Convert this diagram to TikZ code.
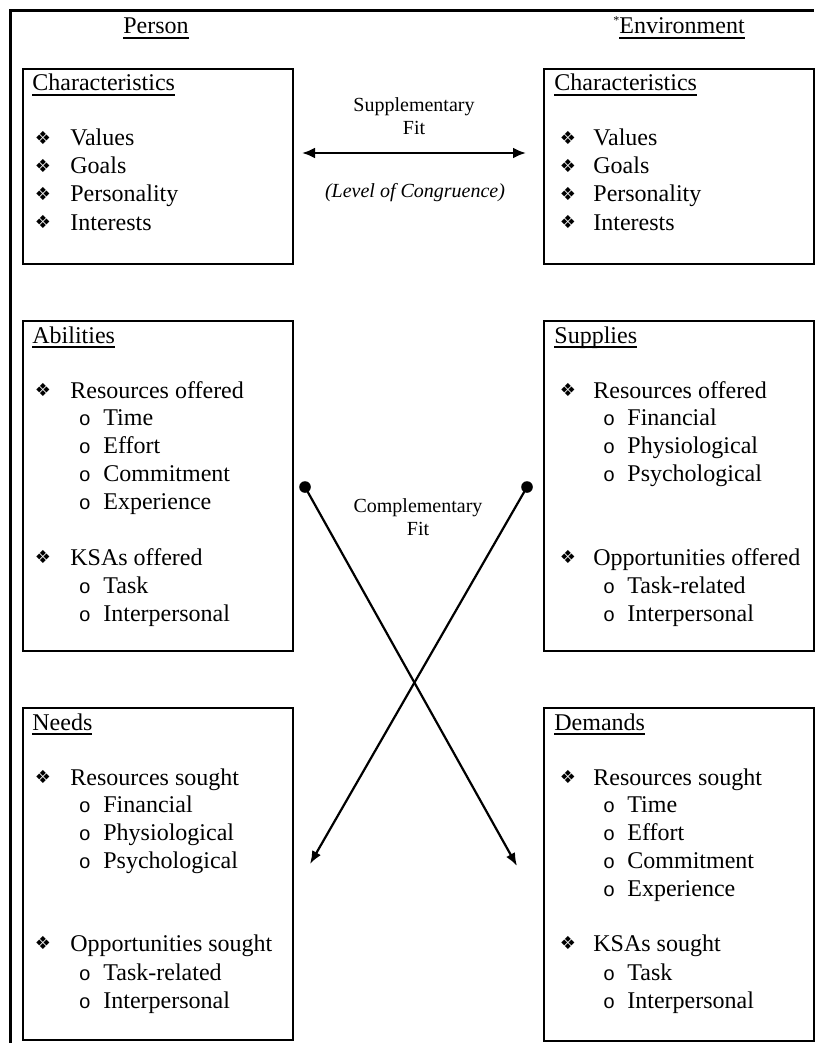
\documentclass[tikz,border=0pt]{standalone}
\usepackage{fontspec}
\setmainfont{Liberation Serif}
\newfontfamily\dingfont{DejaVu Sans}
\newfontfamily\circfont{Liberation Mono}
\usetikzlibrary{arrows.meta}
\newlength\ulwidth
% Word-style underline: fixed distance below the baseline
\newcommand\ulword[1]{\settowidth\ulwidth{#1}\rlap{\rule[-2.4pt]{\ulwidth}{0.9pt}}#1}

\begin{document}
\begin{tikzpicture}[x=0.5pt,y=-0.5pt,
  frameline/.style={line width=1.5pt},
  panel/.style={draw, line width=0.8pt, anchor=north west, inner sep=0pt, minimum width=135pt},
  txt/.style={anchor=west, inner sep=0pt, text height=8pt, text depth=0pt, font=\fontsize{12}{14}\selectfont},
  head/.style={anchor=center, inner sep=0pt, text height=8pt, text depth=0pt, font=\fontsize{12}{14}\selectfont},
  bul/.style={inner sep=0pt, font=\dingfont\fontsize{9}{9}\selectfont},
  subbul/.style={inner sep=0pt, font=\circfont\fontsize{10}{10}\selectfont},
  note/.style={align=center, inner sep=0pt, font=\fontsize{10}{11.5}\selectfont},
  dot/.style={circle, fill, inner sep=0pt, minimum size=5.8pt},
  fitarrow/.style={line width=1.2pt, {Latex[length=6.5pt,width=5.5pt]}-{Latex[length=6.5pt,width=5.5pt]}},
  cross/.style={line width=1.1pt, -{Latex[length=6.5pt,width=5pt]}}
]
\useasboundingbox (0,0) rectangle (814,1043);

% outer frame (left and top sides)
\draw[frameline] (10,1043) -- (10,11) -- (814,11);

% column headings
\node[head] (personhead) at (156,26) {\ulword{Person}};
\node[txt] (envhead) at (613,26) {\raisebox{4.5pt}{\fontsize{6}{6}\selectfont *}\ulword{Environment}};

% panels
\node[panel, minimum height=97.5pt] (pchar) at (22,68) {};
\node[panel, minimum height=97.5pt] (echar) at (543,68) {};
\node[panel, minimum height=165pt] (abil) at (22,320) {};
\node[panel, minimum height=165pt] (supp) at (543,320) {};
\node[panel, minimum height=166pt] (need) at (22,707) {};
\node[panel, minimum height=166.5pt] (dema) at (543,707) {};

% ---- Person: Characteristics
\node[txt] (pc0) at (32,83) {\ulword{Characteristics}};
\node[bul] (pcb1) at (43,138) {❖}; \node[txt] (pc1) at (70,138) {Values};
\node[bul] (pcb2) at (43,166) {❖}; \node[txt] (pc2) at (70,166) {Goals};
\node[bul] (pcb3) at (43,194) {❖}; \node[txt] (pc3) at (70,194) {Personality};
\node[bul] (pcb4) at (43,222) {❖}; \node[txt] (pc4) at (70,222) {Interests};

% ---- Environment: Characteristics
\node[txt] (ec0) at (554,83) {\ulword{Characteristics}};
\node[bul] (ecb1) at (568,138) {❖}; \node[txt] (ec1) at (593,138) {Values};
\node[bul] (ecb2) at (568,166) {❖}; \node[txt] (ec2) at (593,166) {Goals};
\node[bul] (ecb3) at (568,194) {❖}; \node[txt] (ec3) at (593,194) {Personality};
\node[bul] (ecb4) at (568,222) {❖}; \node[txt] (ec4) at (593,222) {Interests};

% ---- Abilities
\node[txt] (ab0) at (32,335) {\ulword{Abilities}};
\node[bul] (abb1) at (43,390) {❖}; \node[txt] (ab1) at (70,390) {Resources offered};
\node[subbul] (abo1) at (85,420) {o}; \node[txt] (ab11) at (103,417) {Time};
\node[subbul] (abo2) at (85,448) {o}; \node[txt] (ab12) at (103,445) {Effort};
\node[subbul] (abo3) at (85,476) {o}; \node[txt] (ab13) at (103,473) {Commitment};
\node[subbul] (abo4) at (85,504) {o}; \node[txt] (ab14) at (103,501) {Experience};
\node[bul] (abb2) at (43,557) {❖}; \node[txt] (ab2) at (70,557) {KSAs offered};
\node[subbul] (abo5) at (85,588) {o}; \node[txt] (ab21) at (103,585) {Task};
\node[subbul] (abo6) at (85,616) {o}; \node[txt] (ab22) at (103,613) {Interpersonal};

% ---- Supplies
\node[txt] (su0) at (554,335) {\ulword{Supplies}};
\node[bul] (sub1) at (568,390) {❖}; \node[txt] (su1) at (593,390) {Resources offered};
\node[subbul] (suo1) at (609,420) {o}; \node[txt] (su11) at (627,417) {Financial};
\node[subbul] (suo2) at (609,448) {o}; \node[txt] (su12) at (627,445) {Physiological};
\node[subbul] (suo3) at (609,476) {o}; \node[txt] (su13) at (627,473) {Psychological};
\node[bul] (sub2) at (568,557) {❖}; \node[txt] (su2) at (593,557) {Opportunities offered};
\node[subbul] (suo4) at (609,588) {o}; \node[txt] (su21) at (627,585) {Task-related};
\node[subbul] (suo5) at (609,616) {o}; \node[txt] (su22) at (627,613) {Interpersonal};

% ---- Needs
\node[txt] (ne0) at (32,722) {\ulword{Needs}};
\node[bul] (neb1) at (43,777) {❖}; \node[txt] (ne1) at (70,777) {Resources sought};
\node[subbul] (neo1) at (85,807) {o}; \node[txt] (ne11) at (103,804) {Financial};
\node[subbul] (neo2) at (85,835) {o}; \node[txt] (ne12) at (103,832) {Physiological};
\node[subbul] (neo3) at (85,863) {o}; \node[txt] (ne13) at (103,860) {Psychological};
\node[bul] (neb2) at (43,943) {❖}; \node[txt] (ne2) at (70,943) {Opportunities sought};
\node[subbul] (neo4) at (85,975) {o}; \node[txt] (ne21) at (103,972) {Task-related};
\node[subbul] (neo5) at (85,1003) {o}; \node[txt] (ne22) at (103,1000) {Interpersonal};

% ---- Demands
\node[txt] (de0) at (554,722) {\ulword{Demands}};
\node[bul] (deb1) at (568,777) {❖}; \node[txt] (de1) at (593,777) {Resources sought};
\node[subbul] (deo1) at (609,807) {o}; \node[txt] (de11) at (627,804) {Time};
\node[subbul] (deo2) at (609,835) {o}; \node[txt] (de12) at (627,832) {Effort};
\node[subbul] (deo3) at (609,863) {o}; \node[txt] (de13) at (627,860) {Commitment};
\node[subbul] (deo4) at (609,891) {o}; \node[txt] (de14) at (627,888) {Experience};
\node[bul] (deb2) at (568,943) {❖}; \node[txt] (de2) at (593,943) {KSAs sought};
\node[subbul] (deo5) at (609,975) {o}; \node[txt] (de21) at (627,972) {Task};
\node[subbul] (deo6) at (609,1003) {o}; \node[txt] (de22) at (627,1000) {Interpersonal};

% ---- supplementary fit
\node[note] (suppfit) at (414,116) {Supplementary\\Fit};
\node[note, font=\fontsize{10}{11.5}\selectfont\itshape] (congr) at (415,193) {(Level of Congruence)};
\coordinate (sfl) at (302,153);
\coordinate (sfr) at (526,153);
\draw[fitarrow] (sfl) -- (sfr);

% ---- complementary fit
\node[note] (compfit) at (418,517) {Complementary\\Fit};
\node[dot] (dl) at (305,487) {};
\node[dot] (dr) at (527,487) {};
\coordinate (tl) at (310,864);
\coordinate (tr) at (517,866);
\draw[cross] (dl.center) -- (tr);
\draw[cross] (dr.center) -- (tl);
\end{tikzpicture}
\end{document}
